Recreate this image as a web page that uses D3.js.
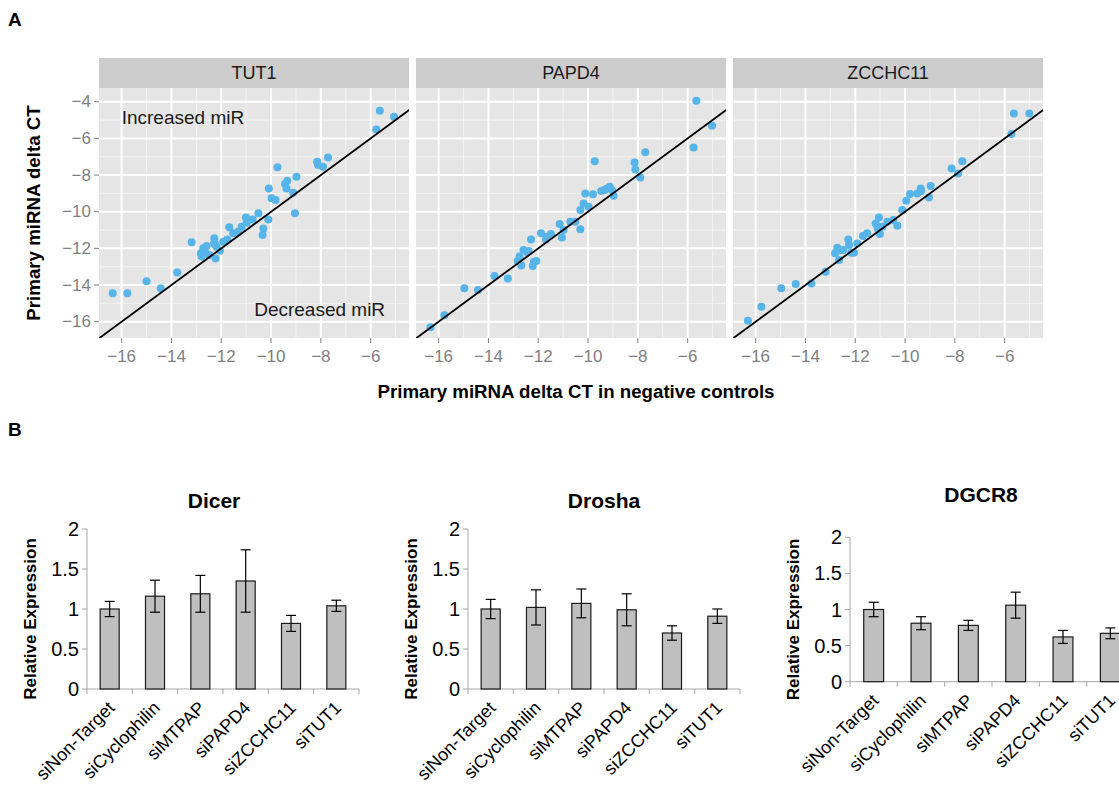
<!DOCTYPE html>
<html>
<head>
<meta charset="utf-8">
<script src="https://cdn.jsdelivr.net/npm/d3@7"></script>
<style>
  body { margin: 0; background: #fff; }
  svg { font-family: "Liberation Sans", Arial, sans-serif; display: block; }
</style>
</head>
<body>
<div id="fig"></div>
<script>
// ---- Panel A data: [ct in negative controls, ct after knockdown]
const facetNames = ["TUT1", "PAPD4", "ZCCHC11"];

const tut1Points = [
  [-16.36, -14.45], [-15.77, -14.45], [-15.0, -13.8], [-14.43, -14.18], [-13.77, -13.31],
  [-13.19, -11.67], [-12.82, -12.27], [-12.72, -12.0], [-12.59, -11.87], [-12.79, -12.45],
  [-12.48, -12.36], [-12.28, -11.45], [-12.25, -11.76], [-12.23, -12.55], [-12.05, -12.13],
  [-11.92, -11.64], [-11.76, -11.51], [-11.68, -10.85], [-11.52, -11.18], [-11.18, -10.82],
  [-11.01, -10.31], [-10.98, -10.6], [-10.74, -10.42], [-10.51, -10.09], [-10.31, -10.91],
  [-10.34, -11.27], [-10.11, -10.42], [-10.09, -8.73], [-9.98, -9.27], [-9.82, -9.36],
  [-9.74, -7.58], [-9.44, -8.49], [-9.35, -8.31], [-9.38, -8.73], [-9.11, -8.96],
  [-8.98, -8.09], [-9.04, -10.09], [-8.15, -7.27], [-8.11, -7.45], [-7.91, -7.55],
  [-7.71, -7.04], [-5.77, -5.51], [-5.63, -4.49], [-5.06, -4.82], [-12.29, -11.73],
  [-11.32, -11.09], [-12.66, -12.18], [-12.19, -11.91]
];

const papd4Points = [
  [-16.33, -16.31], [-15.77, -15.65], [-14.97, -14.18], [-14.42, -14.27], [-13.76, -13.51],
  [-13.22, -13.64], [-12.83, -12.69], [-12.75, -12.45], [-12.68, -12.93], [-12.59, -12.09],
  [-12.39, -12.15], [-12.29, -11.51], [-12.22, -12.96], [-12.18, -12.73], [-12.08, -12.69],
  [-11.89, -11.18], [-11.69, -11.51], [-11.49, -11.22], [-11.65, -11.36], [-11.14, -10.67],
  [-11.05, -11.4], [-10.98, -11.0], [-10.71, -10.55], [-10.51, -10.55], [-10.31, -10.96],
  [-10.31, -9.91], [-10.18, -9.55], [-10.11, -9.0], [-9.98, -9.73], [-9.80, -9.05],
  [-9.73, -7.25], [-9.47, -8.87], [-9.35, -8.82], [-9.13, -8.64], [-9.04, -8.82],
  [-8.97, -9.13], [-8.13, -7.31], [-8.10, -7.69], [-7.90, -8.13], [-7.70, -6.76],
  [-5.76, -6.49], [-5.65, -3.95], [-5.02, -5.31], [-9.24, -8.73], [-12.45, -12.2]
];

const zcchc11Points = [
  [-16.31, -15.95], [-15.77, -15.18], [-14.97, -14.18], [-14.39, -13.95], [-13.76, -13.91],
  [-13.19, -13.27], [-12.81, -12.27], [-12.72, -11.96], [-12.65, -12.64], [-12.48, -12.09],
  [-12.28, -11.51], [-12.25, -11.82], [-12.16, -12.24], [-12.05, -12.24], [-11.92, -11.73],
  [-11.69, -11.33], [-11.52, -11.18], [-11.18, -10.64], [-11.05, -10.31], [-11.01, -11.22],
  [-10.91, -10.82], [-10.71, -10.55], [-10.47, -10.45], [-10.31, -10.76], [-10.11, -9.91],
  [-9.95, -9.4], [-9.80, -9.04], [-9.51, -9.0], [-9.37, -8.73], [-9.35, -8.87],
  [-9.04, -9.22], [-8.97, -8.6], [-8.13, -7.64], [-7.87, -7.91], [-7.70, -7.24],
  [-5.73, -5.76], [-5.63, -4.64], [-5.01, -4.64], [-12.6, -12.1], [-11.1, -10.9]
];

const scatterXTicks = [-16, -14, -12, -10, -8, -6];
const scatterYTicks = [-16, -14, -12, -10, -8, -6, -4];
const scatterXMinor = [-15, -13, -11, -9, -7, -5];
const scatterYMinor = [-15, -13, -11, -9, -7, -5];

// ---- Panel B data
const knockdowns = ["siNon-Target", "siCyclophilin", "siMTPAP", "siPAPD4", "siZCCHC11", "siTUT1"];
const dicerMean = [1.0, 1.16, 1.19, 1.35, 0.82, 1.04];
const dicerErr  = [0.095, 0.2, 0.23, 0.39, 0.1, 0.07];
const droshaMean = [1.0, 1.02, 1.07, 0.99, 0.70, 0.91];
const droshaErr  = [0.12, 0.22, 0.18, 0.2, 0.09, 0.09];
const dgcr8Mean = [1.0, 0.81, 0.78, 1.06, 0.62, 0.67];
const dgcr8Err  = [0.1, 0.09, 0.07, 0.18, 0.09, 0.075];
const barTicks = [0, 0.5, 1, 1.5, 2];

const width = 1119, height = 797;
const svg = d3.select("#fig").append("svg")
  .attr("width", width)
  .attr("height", height);

// panel letters
svg.append("text").text("A").attr("x", 8).attr("y", 26)
  .attr("font-size", 19).attr("font-weight", "bold");
svg.append("text").text("B").attr("x", 8).attr("y", 436)
  .attr("font-size", 19).attr("font-weight", "bold");

/*----------------------------- */
// Panel A: faceted scatter (ggplot look)

const panelTop = 88, panelBottom = 338, stripTop = 58;
const panelW = 310, panelGap = 7, firstLeft = 99;
const facetData = [tut1Points, papd4Points, zcchc11Points];

const yScale = d3.scaleLinear()
  .domain([-16.89, -3.25])
  .range([panelBottom, panelTop]);

facetNames.forEach((name, i) => {
  const left = firstLeft + i * (panelW + panelGap);
  const xScale = d3.scaleLinear()
    .domain([-16.91, -4.46])
    .range([left, left + panelW]);

  const g = svg.append("g");

  g.append("rect")
    .attr("x", left).attr("y", panelTop)
    .attr("width", panelW).attr("height", panelBottom - panelTop)
    .attr("fill", "#e5e5e5");

  // strip
  g.append("rect")
    .attr("x", left).attr("y", stripTop)
    .attr("width", panelW).attr("height", panelTop - stripTop)
    .attr("fill", "#cccccc");
  g.append("text")
    .text(name)
    .attr("x", left + panelW / 2).attr("y", (stripTop + panelTop) / 2)
    .attr("text-anchor", "middle").attr("dominant-baseline", "central")
    .attr("font-size", 18).attr("fill", "#1a1a1a");

  // minor grid
  g.selectAll("line.xminor").data(scatterXMinor).join("line")
    .attr("x1", d => xScale(d)).attr("x2", d => xScale(d))
    .attr("y1", panelTop).attr("y2", panelBottom)
    .attr("stroke", "#f2f2f2").attr("stroke-width", 1);
  g.selectAll("line.yminor").data(scatterYMinor).join("line")
    .attr("x1", left).attr("x2", left + panelW)
    .attr("y1", d => yScale(d)).attr("y2", d => yScale(d))
    .attr("stroke", "#f2f2f2").attr("stroke-width", 1);
  // major grid
  g.selectAll("line.xmajor").data(scatterXTicks).join("line")
    .attr("x1", d => xScale(d)).attr("x2", d => xScale(d))
    .attr("y1", panelTop).attr("y2", panelBottom)
    .attr("stroke", "#fff").attr("stroke-width", 2);
  g.selectAll("line.ymajor").data(scatterYTicks).join("line")
    .attr("x1", left).attr("x2", left + panelW)
    .attr("y1", d => yScale(d)).attr("y2", d => yScale(d))
    .attr("stroke", "#fff").attr("stroke-width", 2);

  // points
  g.selectAll("circle").data(facetData[i]).join("circle")
    .attr("cx", d => xScale(d[0]))
    .attr("cy", d => yScale(d[1]))
    .attr("r", 4)
    .attr("fill", "#56b4e9");

  // identity line, clipped to panel
  const clipId = "clip" + i;
  svg.append("clipPath").attr("id", clipId)
    .append("rect")
      .attr("x", left).attr("y", panelTop)
      .attr("width", panelW).attr("height", panelBottom - panelTop);
  g.append("line")
    .attr("clip-path", `url(#${clipId})`)
    .attr("x1", xScale(-18)).attr("y1", yScale(-18))
    .attr("x2", xScale(-2)).attr("y2", yScale(-2))
    .attr("stroke", "#000").attr("stroke-width", 1.8);

  // x axis ticks + labels
  const xAxis = g.append("g");
  xAxis.selectAll("line").data(scatterXTicks).join("line")
    .attr("x1", d => xScale(d)).attr("x2", d => xScale(d))
    .attr("y1", panelBottom).attr("y2", panelBottom + 5)
    .attr("stroke", "#7f7f7f");
  xAxis.selectAll("text").data(scatterXTicks).join("text")
    .text(d => d3.format("d")(d))
    .attr("x", d => xScale(d)).attr("y", panelBottom + 24)
    .attr("text-anchor", "middle")
    .attr("font-size", 17).attr("fill", "#7f7f7f");

  if (i === 0) {
    const yAxis = g.append("g");
    yAxis.selectAll("line").data(scatterYTicks).join("line")
      .attr("x1", left - 5).attr("x2", left)
      .attr("y1", d => yScale(d)).attr("y2", d => yScale(d))
      .attr("stroke", "#7f7f7f");
    yAxis.selectAll("text").data(scatterYTicks).join("text")
      .text(d => d3.format("d")(d))
      .attr("x", left - 8).attr("y", d => yScale(d))
      .attr("text-anchor", "end").attr("dominant-baseline", "central")
      .attr("font-size", 17).attr("fill", "#7f7f7f");

    g.append("text").text("Increased miR")
      .attr("x", xScale(-16)).attr("y", yScale(-4.85))
      .attr("dominant-baseline", "central")
      .attr("font-size", 19).attr("fill", "#1a1a1a");
    g.append("text").text("Decreased miR")
      .attr("x", xScale(-5.42)).attr("y", yScale(-15.35))
      .attr("text-anchor", "end").attr("dominant-baseline", "central")
      .attr("font-size", 19).attr("fill", "#1a1a1a");
  }
});

svg.append("text")
  .text("Primary miRNA delta CT")
  .attr("transform", `translate(40, ${(panelTop + panelBottom) / 2}) rotate(-90)`)
  .attr("text-anchor", "middle")
  .attr("font-size", 18.7).attr("font-weight", "bold");

svg.append("text")
  .text("Primary miRNA delta CT in negative controls")
  .attr("x", 576).attr("y", 398)
  .attr("text-anchor", "middle")
  .attr("font-size", 18.7).attr("font-weight", "bold");

/*----------------------------- */
// Panel B: Excel-style bar charts with error bars

const barCharts = [
  { title: "Dicer",  mean: dicerMean,  err: dicerErr,  left: 87,  right: 359,  y0: 689,   y2: 529,   titleX: 214, titleY: 500, labelX: 30 },
  { title: "Drosha", mean: droshaMean, err: droshaErr, left: 468, right: 740,  y0: 689,   y2: 529,   titleX: 604, titleY: 500, labelX: 411 },
  { title: "DGCR8",  mean: dgcr8Mean,  err: dgcr8Err,  left: 850, right: 1134, y0: 681.7, y2: 537.3, titleX: 981, titleY: 494, labelX: 793 }
];

barCharts.forEach(c => {
  const g = svg.append("g");

  const x = d3.scaleBand()
    .domain(knockdowns)
    .range([c.left, c.right]);
  const y = d3.scaleLinear()
    .domain([0, 2])
    .range([c.y0, c.y2]);
  const barW = x.bandwidth() * 0.42;

  g.append("text").text(c.title)
    .attr("x", c.titleX).attr("y", c.titleY)
    .attr("text-anchor", "middle").attr("dominant-baseline", "central")
    .attr("font-size", 21).attr("font-weight", "bold");

  g.append("text").text("Relative Expression")
    .attr("transform", `translate(${c.labelX}, ${(c.y0 + c.y2) / 2 + 10}) rotate(-90)`)
    .attr("text-anchor", "middle").attr("dominant-baseline", "central")
    .attr("font-size", 17).attr("font-weight", "bold");

  // axes
  g.append("line")
    .attr("x1", c.left).attr("x2", c.left)
    .attr("y1", y(2)).attr("y2", y(0))
    .attr("stroke", "#a6a6a6");
  g.append("line")
    .attr("x1", c.left).attr("x2", c.right)
    .attr("y1", y(0)).attr("y2", y(0))
    .attr("stroke", "#a6a6a6");
  g.selectAll("line.yt").data(barTicks).join("line")
    .attr("x1", c.left - 5).attr("x2", c.left)
    .attr("y1", d => y(d)).attr("y2", d => y(d))
    .attr("stroke", "#a6a6a6");
  g.selectAll("text.yl").data(barTicks).join("text")
    .text(d => d)
    .attr("x", c.left - 8).attr("y", d => y(d))
    .attr("text-anchor", "end").attr("dominant-baseline", "central")
    .attr("font-size", 20);
  const bounds = knockdowns.map(k => x(k)).concat([c.right]);
  g.selectAll("line.xt").data(bounds).join("line")
    .attr("x1", d => d).attr("x2", d => d)
    .attr("y1", y(0)).attr("y2", y(0) + 5)
    .attr("stroke", "#a6a6a6");

  // bars
  g.selectAll("rect").data(knockdowns).join("rect")
    .attr("x", (d) => x(d) + x.bandwidth() / 2 - barW / 2)
    .attr("y", (d, i) => y(c.mean[i]))
    .attr("width", barW)
    .attr("height", (d, i) => y(0) - y(c.mean[i]))
    .attr("fill", "#bfbfbf")
    .attr("stroke", "#1a1a1a").attr("stroke-width", 1.2);

  // error bars
  knockdowns.forEach((k, i) => {
    const cx = x(k) + x.bandwidth() / 2;
    const top = y(c.mean[i] + c.err[i]), bot = y(c.mean[i] - c.err[i]);
    g.append("line").attr("x1", cx).attr("x2", cx).attr("y1", top).attr("y2", bot)
      .attr("stroke", "#000").attr("stroke-width", 1.2);
    [top, bot].forEach(v => {
      g.append("line").attr("x1", cx - 5).attr("x2", cx + 5).attr("y1", v).attr("y2", v)
        .attr("stroke", "#000").attr("stroke-width", 1.2);
    });
  });

  // rotated category labels
  g.selectAll("text.cat").data(knockdowns).join("text")
    .text(d => d)
    .attr("transform", d => `translate(${x(d) + x.bandwidth() / 2 + 6}, ${y(0) + 20}) rotate(-45)`)
    .attr("text-anchor", "end")
    .attr("font-size", 18);
});
</script>
</body>
</html>
